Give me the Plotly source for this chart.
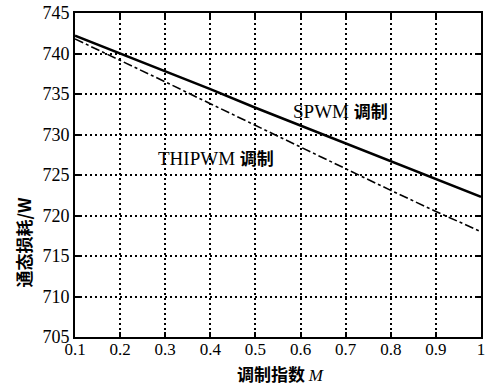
import plotly.graph_objects as go

M = [0.1, 0.2, 0.3, 0.4, 0.5, 0.6, 0.7, 0.8, 0.9, 1.0]
spwm = [742.2, 740.0, 737.8, 735.6, 733.3, 731.1, 728.9, 726.7, 724.5, 722.3]
thipwm = [741.8, 739.2, 736.5, 733.8, 731.1, 728.4, 725.7, 723.1, 720.5, 718.0]
x_ticks = [0.1, 0.2, 0.3, 0.4, 0.5, 0.6, 0.7, 0.8, 0.9, 1.0]
x_ticktext = ["0.1", "0.2", "0.3", "0.4", "0.5", "0.6", "0.7", "0.8", "0.9", "1"]
y_ticks = [705, 710, 715, 720, 725, 730, 735, 740, 745]

SERIF = "Liberation Serif, Times New Roman, serif"
CJK = "Noto Sans CJK SC"

fig = go.Figure()
fig.add_trace(go.Scatter(x=M, y=spwm, mode="lines", name="SPWM",
                         line=dict(color="black", width=2.5)))
fig.add_trace(go.Scatter(x=M, y=thipwm, mode="lines", name="THIPWM",
                         line=dict(color="black", width=1.6, dash="dashdot")))

axis_common = dict(showline=True, linecolor="black", linewidth=2, mirror="ticks",
                   ticks="inside", ticklen=5, tickwidth=1.5, tickcolor="black",
                   showgrid=True, gridcolor="#000000", gridwidth=1.6, griddash="2px,3px",
                   zeroline=False, ticklabeloverflow="allow")

fig.update_xaxes(range=[0.1, 1.0], tickvals=x_ticks, ticktext=x_ticktext,
                 ticklabelstandoff=-4, tickfont=dict(family=SERIF, size=17, color="black"),
                 **axis_common)
fig.update_yaxes(range=[705, 745], tickvals=y_ticks,
                 tickfont=dict(family=SERIF, size=18, color="black"), **axis_common)

fig.add_annotation(xref="x", yref="y", x=0.578, y=733.0, xanchor="left", yanchor="middle",
                   text="SPWM <span style='font-family:Noto Sans CJK SC;font-weight:bold;font-size:17px'>调制</span>",
                   showarrow=False, font=dict(family=SERIF, size=19, color="black"))
fig.add_annotation(xref="x", yref="y", x=0.279, y=727.2, xanchor="left", yanchor="middle",
                   text="THIPWM <span style='font-family:Noto Sans CJK SC;font-weight:bold;font-size:17px'>调制</span>",
                   showarrow=False, font=dict(family=SERIF, size=19, color="black"))
fig.add_annotation(xref="paper", yref="paper", x=-0.127, y=0.293, xanchor="center", yanchor="middle",
                   text="<b>通态损耗/W</b>", textangle=-90, showarrow=False,
                   font=dict(family=CJK, size=17, color="black"))
fig.add_annotation(xref="paper", yref="paper", x=0.505, y=-0.112, xanchor="center", yanchor="middle",
                   text="<b>调制指数</b> <span style='font-family:Liberation Serif'><i>M</i></span>",
                   showarrow=False, font=dict(family=CJK, size=17, color="black"))

fig.update_layout(width=486, height=386, margin=dict(l=75, r=1, t=13, b=49),
                  paper_bgcolor="white", plot_bgcolor="white", showlegend=False)

fig.write_html("out.html")
